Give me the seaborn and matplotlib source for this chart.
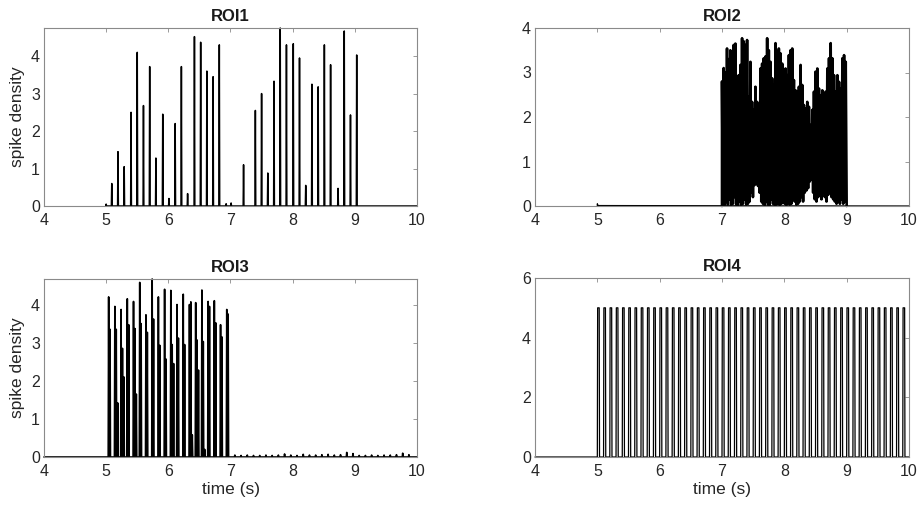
import matplotlib
matplotlib.use("Agg")
import matplotlib.pyplot as plt
import numpy as np
import pandas as pd
import seaborn as sns

# ROI1: single spikes during the 5-9 s window
roi1_times = [5.00, 5.09, 5.19, 5.29, 5.40, 5.50, 5.60, 5.70, 5.80, 5.91,
              6.01, 6.11, 6.21, 6.31, 6.42, 6.52, 6.62, 6.72, 6.82, 6.93,
              7.01, 7.21, 7.40, 7.50, 7.60, 7.70, 7.80, 7.90, 8.01, 8.11,
              8.21, 8.31, 8.41, 8.51, 8.61, 8.73, 8.83, 8.93, 9.03]
roi1_heights = [0.05, 0.60, 1.45, 1.05, 2.50, 4.10, 2.68, 3.72, 1.28, 2.45,
                0.20, 2.20, 3.72, 0.33, 4.52, 4.37, 3.60, 3.45, 4.30, 0.06,
                0.08, 1.10, 2.55, 3.00, 0.88, 3.33, 4.75, 4.30, 4.33, 3.95,
                0.55, 3.25, 3.18, 4.30, 3.77, 0.47, 4.67, 2.43, 4.03]

# ROI2: dense oscillation between 7 and 9 s (peaks / troughs)
roi2_peaks = [2.80, 3.10, 3.00, 3.54, 3.30, 3.50, 3.47, 3.62, 3.65, 2.76,
              2.94, 3.17, 3.77, 3.70, 3.62, 3.73, 2.46, 3.24, 2.34, 2.16,
              2.68, 2.34, 2.27, 3.09, 3.20, 3.32, 3.36, 3.77, 3.50, 3.24,
              2.87, 2.72, 3.66, 3.47, 3.54, 3.43, 3.20, 2.57, 3.09, 2.94,
              3.39, 3.50, 3.54, 2.83, 2.60, 2.57, 2.68, 3.17, 2.72, 2.27,
              2.19, 2.34, 2.23, 1.82, 2.16, 2.57, 3.02, 3.09, 2.64, 2.49,
              2.60, 2.27, 2.57, 3.09, 3.32, 3.66, 3.32, 2.94, 2.57, 2.94,
              2.79, 2.64, 3.32, 3.39, 3.24]
roi2_troughs = [0.05, 0.02, 0.10, 0.03, 0.15, 0.02, 0.05, 0.20, 0.03, 0.02,
                0.10, 0.02, 0.05, 0.15, 0.03, 0.05,
                0.10, 0.30, 0.20, 0.47, 0.50, 0.45, 0.30, 0.10,
                0.05, 0.02, 0.10, 0.03, 0.02, 0.15, 0.05, 0.02, 0.03, 0.10,
                0.02, 0.05, 0.10,
                0.05, 0.02, 0.15, 0.03, 0.05, 0.20, 0.10, 0.03, 0.05, 0.10,
                0.20, 0.10, 0.30, 0.35, 0.40, 0.55, 0.60, 0.30, 0.15,
                0.10, 0.20, 0.25, 0.15, 0.30, 0.20, 0.10, 0.25, 0.30, 0.20,
                0.15, 0.10,
                0.05, 0.10, 0.05, 0.15, 0.05, 0.10, 0.05]

# ROI3: bursts of 2-3 spikes every 0.1 s from 5 to 7 s, then small bumps
roi3_burst_times = [5.04, 5.14, 5.24, 5.34, 5.44, 5.54, 5.64, 5.74, 5.84, 5.94,
                    6.04, 6.14, 6.24, 6.34, 6.44, 6.54, 6.64, 6.74, 6.84, 6.94]
roi3_first = [4.20, 3.95, 3.87, 4.15, 4.08, 4.58, 3.73, 4.67, 4.20, 4.40,
              4.37, 4.00, 4.27, 4.00, 4.05, 4.38, 4.08, 4.10, 3.47, 3.87]
roi3_second = [3.35, 3.35, 2.85, 3.47, 3.37, 3.50, 3.27, 3.62, 2.93, 2.57,
               2.95, 3.12, 2.95, 4.07, 3.07, 3.03, 3.95, 3.52, 3.15, 3.75]
roi3_third = [0.00, 1.42, 2.10, 0.00, 1.65, 0.00, 0.00, 0.00, 0.00, 0.00,
              2.45, 0.00, 0.00, 0.58, 2.28, 0.20, 0.00, 0.00, 0.00, 0.00]
roi3_tail_times = [7.07, 7.17, 7.27, 7.37, 7.47, 7.57, 7.67, 7.77, 7.87, 7.97,
                   8.07, 8.17, 8.27, 8.37, 8.47, 8.57, 8.67, 8.77, 8.87, 8.97,
                   9.07, 9.17, 9.27, 9.37, 9.47, 9.57, 9.67, 9.77, 9.87]
roi3_tail = [0.05, 0.04, 0.05, 0.04, 0.04, 0.05, 0.04, 0.05, 0.08, 0.05,
             0.04, 0.07, 0.05, 0.05, 0.06, 0.07, 0.05, 0.06, 0.12, 0.09,
             0.04, 0.04, 0.05, 0.04, 0.05, 0.05, 0.06, 0.10, 0.06]

# ROI4: regular pulses at 10 Hz from 5 to 10 s
roi4_times = [5.0 + 0.1 * k for k in range(50)]
roi4_heights = [5.0] * 50

titles = ["ROI1", "ROI2", "ROI3", "ROI4"]
y_limits = [(0, max(roi1_heights)), (0, 4), (0, max(roi3_first)), (0, 6)]
y_ticks = [[0, 1, 2, 3, 4], [0, 1, 2, 3, 4], [0, 1, 2, 3, 4], [0, 2, 4, 6]]
x_ticks = [4, 5, 6, 7, 8, 9, 10]


def spike_trace(times, heights, start, w=0.006):
    ev = sorted((t, h) for t, h in zip(times, heights) if h > 0)
    xs, ys = [start], [0.0]
    for t, h in ev:
        xs += [t - w, t, t + w]
        ys += [0.0, h, 0.0]
    xs.append(10.0); ys.append(0.0)
    return xs, ys


def osc_burst():
    n = len(roi2_peaks)
    tp = np.linspace(7.0, 8.985, n)
    dt = tp[1] - tp[0]
    xs, ys = [7.0], [0.0]
    for t, p, q in zip(tp, roi2_peaks, roi2_troughs):
        xs += [t, t + dt / 2]
        ys += [p, q]
    xs.append(9.0); ys.append(0.0)
    return xs, ys


def osc_baseline():
    return [5.0, 5.0, 5.012, 10.0], [0.0, 0.05, 0.01, 0.0]


def pulse_trace(times, heights):
    xs, ys = [4.0], [0.0]
    for t, h in zip(times, heights):
        xs += [t, t + 0.005, t + 0.03, t + 0.035]
        ys += [0.0, h, h, 0.0]
    xs.append(10.0); ys.append(0.0)
    return xs, ys


r3_times = roi3_burst_times + [t + 0.022 for t in roi3_burst_times] \
    + [t + 0.045 for t in roi3_burst_times] + roi3_tail_times
r3_heights = roi3_first + roi3_second + roi3_third + roi3_tail

# each panel: list of (trace, linewidth)
panels = [
    [(spike_trace(roi1_times, roi1_heights, 5.0), 1.1)],
    [(osc_baseline(), 0.9), (osc_burst(), 1.9)],
    [(spike_trace(r3_times, r3_heights, 4.0, w=0.007), 1.2)],
    [(pulse_trace(roi4_times, roi4_heights), 0.9)],
]

sns.set_theme(style="white")
plt.rcParams["font.family"] = ["Liberation Sans", "DejaVu Sans"]

fig = plt.figure(figsize=(9.22, 5.15), dpi=100)
W, H = 922, 515
boxes = [(44, 28, 417, 206), (535, 28, 909, 206),
         (44, 279, 417, 457), (535, 278, 909, 457)]
spine_c = "#8a8a8a"

for i, (l, t, r, b) in enumerate(boxes):
    ax = fig.add_axes([l / W, 1 - b / H, (r - l) / W, (b - t) / H])
    for (xs, ys), lw in panels[i]:
        df = pd.DataFrame({"time": xs, "density": ys})
        sns.lineplot(data=df, x="time", y="density", ax=ax, color="black",
                     lw=lw, estimator=None, sort=False, clip_on=False)
    ax.set_xlim(4, 10)
    ax.set_ylim(*y_limits[i])
    ax.set_xticks(x_ticks)
    ax.set_yticks(y_ticks[i])
    ax.set_title(titles[i], fontsize=12, fontweight="bold", color="#1a1a1a", pad=5)
    ax.tick_params(direction="in", top=True, right=True, length=3, width=0.6,
                   color=spine_c, labelcolor="#262626", labelsize=11.5)
    ax.tick_params(axis="x", pad=5)
    ax.tick_params(axis="y", pad=3)
    for s in ax.spines.values():
        s.set_color(spine_c)
        s.set_linewidth(0.8)
    ax.set_xlabel("time (s)" if i >= 2 else "", fontsize=12.5, color="#262626", labelpad=2)
    ax.set_ylabel("spike density" if i % 2 == 0 else "", fontsize=12.5,
                  color="#262626", labelpad=4)

fig.savefig("out.png", dpi=100)
